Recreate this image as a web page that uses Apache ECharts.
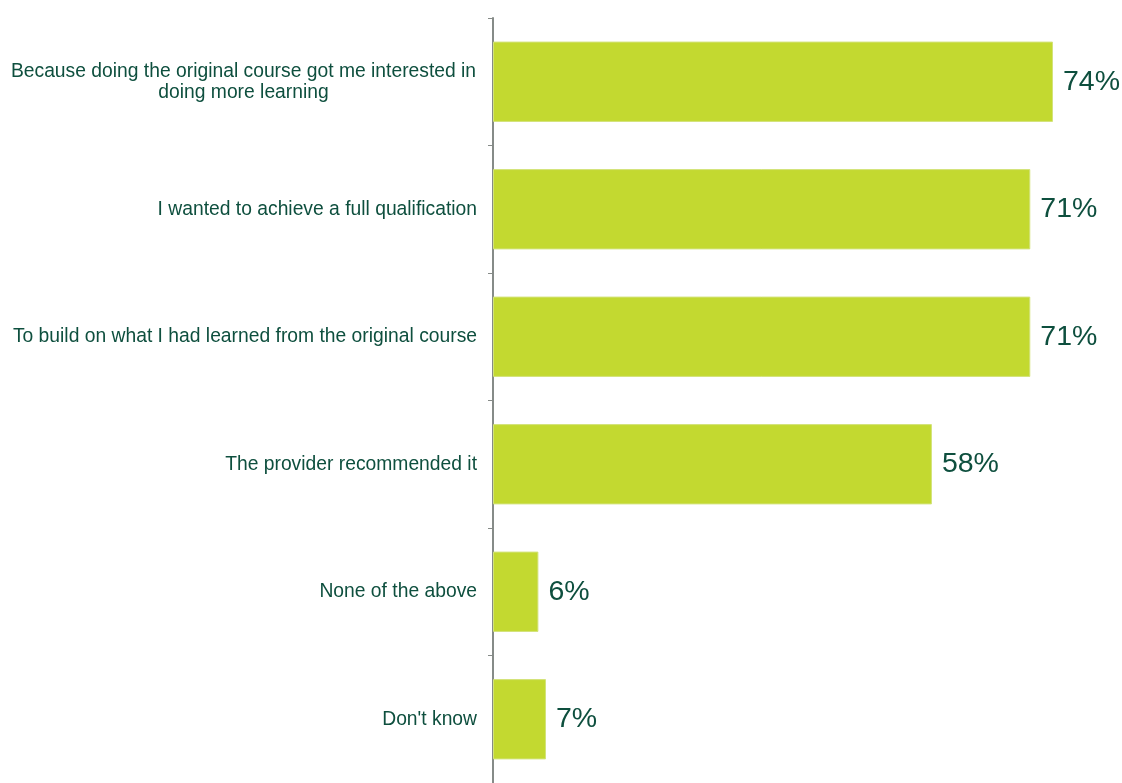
<!DOCTYPE html>
<html>
<head>
<meta charset="utf-8">
<script src="https://cdn.jsdelivr.net/npm/echarts@6/dist/echarts.min.js"></script>
<style>
  html, body { margin: 0; padding: 0; background: #fff; }
  #chart { width: 1122px; height: 783px; }
</style>
</head>
<body>
<div id="chart"></div>
<script>
// Reasons for taking further learning (% of respondents)
const categories = [
  'Because doing the original course got me interested in\ndoing more learning',
  'I wanted to achieve a full qualification',
  'To build on what I had learned from the original course',
  'The provider recommended it',
  'None of the above',
  "Don't know"
];
const values = [74, 71, 71, 58, 6, 7];

const BAR = '#c3d930';
const TEXT = '#0e4f3e';
const FONT = 'Liberation Sans, Arial, sans-serif';

const chart = echarts.init(document.getElementById('chart'));
chart.setOption({
  animation: false,
  grid: { left: 493, right: 23.6, top: 18, bottom: -6, containLabel: false },
  xAxis: {
    type: 'value', min: 0, max: 80, show: false
  },
  yAxis: {
    type: 'category',
    inverse: true,
    data: categories,
    axisLine: { lineStyle: { color: '#868b88', width: 2 } },
    axisTick: { show: true, length: 5, lineStyle: { color: '#868b88', width: 1 } },
    axisLabel: {
      margin: 16,
      fontFamily: FONT,
      fontSize: 19.3,
      color: TEXT,
      lineHeight: 21,
      formatter: function (v) {
        return v.indexOf('\n') >= 0 ? '{c|' + v + '}' : v;
      },
      rich: {
        c: { width: 467, align: 'center', fontSize: 19.3, lineHeight: 21,
             fontFamily: FONT, color: TEXT }
      }
    }
  },
  series: [{
    type: 'bar',
    data: values,
    barWidth: '63%',
    itemStyle: { color: BAR, borderColor: '#d3e37a', borderWidth: 1 },
    label: {
      show: true,
      position: 'right',
      distance: 10,
      formatter: '{c}%',
      fontFamily: FONT,
      fontSize: 28.5,
      color: TEXT
    }
  }]
});
</script>
</body>
</html>
